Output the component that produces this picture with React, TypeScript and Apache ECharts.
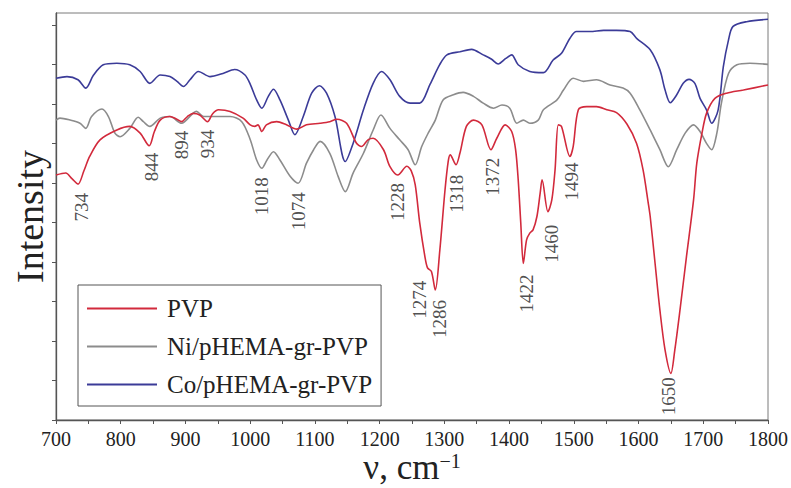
import React, { useEffect, useRef } from "react";
import * as echarts from "echarts";

// Wavenumbers (cm-1) and intensities for each spectrum
const pvpWavenumbers = [700, 715, 725, 734, 743, 752, 768, 794, 814, 830, 844, 852, 861, 876, 886, 894, 903, 912, 922, 934, 942, 951, 969, 989, 1000, 1007, 1012, 1018, 1025, 1041, 1056, 1072, 1087, 1108, 1123, 1134, 1149, 1164, 1172, 1182, 1190, 1206, 1216, 1228, 1242, 1249, 1255, 1262, 1270, 1274, 1280, 1286, 1293, 1301, 1306, 1309, 1318, 1324, 1334, 1345, 1358, 1372, 1381, 1394, 1404, 1410, 1414, 1418, 1422, 1427, 1432, 1437, 1443, 1448, 1451, 1460, 1466, 1471, 1476, 1481, 1494, 1499, 1507, 1520, 1535, 1551, 1566, 1582, 1597, 1607, 1615, 1618, 1625, 1633, 1641, 1650, 1656, 1664, 1674, 1685, 1690, 1698, 1705, 1718, 1736, 1762, 1800];
const pvpIntensity = [6.2, 6.25, 6.1, 5.97, 6.3, 6.67, 7.09, 7.34, 7.43, 7.26, 6.94, 7.3, 7.59, 7.68, 7.62, 7.55, 7.68, 7.76, 7.72, 7.55, 7.75, 7.85, 7.81, 7.64, 7.47, 7.43, 7.47, 7.3, 7.47, 7.55, 7.47, 7.36, 7.47, 7.51, 7.55, 7.61, 7.51, 7.01, 6.92, 7.09, 7.13, 6.84, 6.41, 6.2, 6.42, 6.3, 5.95, 4.98, 4.13, 3.85, 3.76, 3.29, 4.3, 5.82, 6.55, 6.71, 6.46, 6.75, 7.43, 7.59, 7.47, 6.84, 7.13, 7.47, 7.3, 6.85, 6.1, 5.0, 3.96, 4.56, 4.73, 4.81, 5.15, 5.74, 6.08, 5.27, 5.57, 6.33, 7.47, 7.43, 6.67, 6.92, 7.85, 7.93, 7.93, 7.85, 7.78, 7.49, 7.0, 6.33, 5.49, 5.15, 4.05, 2.78, 1.77, 1.18, 1.77, 2.78, 4.13, 5.57, 6.5, 7.26, 7.76, 8.14, 8.27, 8.35, 8.48];

const niWavenumbers = [700, 706, 722, 737, 746, 755, 771, 781, 791, 799, 814, 827, 835, 845, 861, 876, 894, 917, 928, 948, 969, 987, 1000, 1010, 1018, 1026, 1036, 1046, 1062, 1074, 1087, 1098, 1108, 1123, 1136, 1147, 1159, 1175, 1190, 1202, 1216, 1231, 1244, 1255, 1265, 1275, 1286, 1298, 1314, 1329, 1345, 1360, 1376, 1389, 1401, 1412, 1422, 1432, 1445, 1453, 1474, 1484, 1499, 1515, 1535, 1556, 1576, 1587, 1602, 1618, 1633, 1646, 1659, 1672, 1685, 1695, 1705, 1713, 1721, 1728, 1739, 1752, 1772, 1800];
const niIntensity = [7.59, 7.64, 7.59, 7.51, 7.38, 7.68, 7.87, 7.68, 7.26, 7.17, 7.38, 7.66, 7.55, 7.43, 7.64, 7.68, 7.51, 7.81, 7.68, 7.68, 7.68, 7.55, 7.1, 6.58, 6.37, 6.58, 6.79, 6.58, 6.16, 5.99, 6.5, 6.84, 7.05, 6.75, 6.16, 5.78, 6.25, 6.75, 7.34, 7.72, 7.38, 7.09, 6.84, 6.46, 6.92, 7.26, 7.59, 8.1, 8.23, 8.29, 8.19, 8.02, 7.89, 7.97, 7.89, 7.51, 7.59, 7.51, 7.59, 7.85, 8.1, 8.35, 8.65, 8.57, 8.61, 8.48, 8.4, 8.27, 7.85, 7.34, 6.84, 6.41, 6.84, 7.26, 7.47, 7.3, 7.0, 6.84, 7.26, 8.02, 8.77, 8.99, 9.03, 9.0];

const coWavenumbers = [700, 717, 734, 746, 758, 773, 794, 814, 830, 845, 861, 876, 887, 897, 907, 920, 938, 958, 976, 992, 1000, 1010, 1018, 1028, 1036, 1046, 1059, 1069, 1082, 1095, 1107, 1118, 1131, 1147, 1159, 1175, 1190, 1203, 1216, 1231, 1247, 1262, 1278, 1293, 1304, 1324, 1342, 1360, 1373, 1383, 1395, 1404, 1414, 1432, 1453, 1468, 1481, 1494, 1504, 1525, 1546, 1566, 1587, 1597, 1618, 1633, 1641, 1649, 1659, 1669, 1678, 1687, 1695, 1705, 1713, 1723, 1731, 1739, 1746, 1767, 1800];
const coIntensity = [8.65, 8.69, 8.61, 8.4, 8.73, 8.99, 9.03, 8.99, 8.82, 8.52, 8.73, 8.69, 8.57, 8.44, 8.61, 8.82, 8.69, 8.77, 8.87, 8.73, 8.5, 8.1, 7.89, 8.19, 8.37, 8.1, 7.59, 7.22, 7.68, 8.27, 8.46, 8.27, 7.68, 6.54, 7.0, 7.85, 8.52, 8.82, 8.61, 8.19, 8.02, 8.02, 8.5, 9.0, 9.24, 9.32, 9.38, 9.24, 9.13, 9.01, 9.15, 9.24, 8.99, 8.82, 8.79, 9.11, 9.28, 9.66, 9.83, 9.83, 9.86, 9.86, 9.83, 9.66, 9.37, 8.86, 8.35, 8.03, 8.23, 8.52, 8.62, 8.52, 8.14, 7.85, 7.51, 7.85, 8.94, 9.62, 9.96, 10.08, 10.14];

const seriesNames = ["PVP", "Ni/pHEMA-gr-PVP", "Co/pHEMA-gr-PVP"];

// Assigned band positions and the spectrum each one is read from
const peakWavenumbers = [734, 844, 894, 934, 1018, 1074, 1228, 1274, 1286, 1318, 1372, 1422, 1460, 1494, 1650];
const peakSources = ["PVP", "PVP", "PVP", "PVP", "Ni/pHEMA-gr-PVP", "Ni/pHEMA-gr-PVP", "PVP", "PVP", "PVP", "PVP", "PVP", "PVP", "PVP", "PVP", "PVP"];

const xTicks = { min: 700, max: 1800, interval: 100 };
const yTickValues = [0, 1, 2, 3, 4, 5, 6, 7, 8, 9, 10];

const SERIF = '"Liberation Serif", "Times New Roman", serif';
const COLORS: Record<string, string> = {
  "PVP": "#d22a3c",
  "Ni/pHEMA-gr-PVP": "#8c8c8c",
  "Co/pHEMA-gr-PVP": "#3b3b98",
};

// label placement tweaks (pixels): gap below the band minimum, sideways shift
const labelGap: Record<number, number> = { 844: 7, 934: 8, 1228: 8, 1274: 13, 1286: 10, 1318: 10, 1372: 8, 1422: 11, 1460: 13, 1494: 6, 1650: 4 };
const labelShift: Record<number, number> = { 734: 3, 844: 2, 1274: -8, 1286: 4, 1372: 2, 1422: 3, 1460: 4, 1494: 2, 1650: -2 };

const spectra: Record<string, { x: number[]; y: number[] }> = {
  "PVP": { x: pvpWavenumbers, y: pvpIntensity },
  "Ni/pHEMA-gr-PVP": { x: niWavenumbers, y: niIntensity },
  "Co/pHEMA-gr-PVP": { x: coWavenumbers, y: coIntensity },
};

function valueAt(xs: number[], ys: number[], w: number): number {
  for (let i = 0; i < xs.length - 1; i++) {
    if (w >= xs[i] && w <= xs[i + 1]) {
      const t = (w - xs[i]) / (xs[i + 1] - xs[i]);
      return ys[i] + t * (ys[i + 1] - ys[i]);
    }
  }
  return ys[ys.length - 1];
}

export default function App() {
  const ref = useRef<HTMLDivElement>(null);

  useEffect(() => {
    if (!ref.current) return;
    const chart = echarts.init(ref.current, null, { renderer: "svg" });

    const lineSeries = ["Co/pHEMA-gr-PVP", "Ni/pHEMA-gr-PVP", "PVP"].map((name) => ({
      name,
      type: "line" as const,
      data: spectra[name].x.map((w, i) => [w, spectra[name].y[i]]),
      showSymbol: false,
      smooth: 0.3,
      lineStyle: { color: COLORS[name], width: 1.6 },
      itemStyle: { color: COLORS[name] },
      silent: true,
    }));

    const peakData = peakWavenumbers.map((w, i) => {
      const src = spectra[peakSources[i]];
      const gap = labelGap[w] ?? 9;
      const dx = labelShift[w] ?? 0;
      return {
        value: [w, valueAt(src.x, src.y, w)],
        label: { position: [1 + dx, 1 + gap] },
      };
    });

    chart.setOption({
      animation: false,
      backgroundColor: "#fff",
      grid: {
        left: 56,
        right: 23,
        top: 13,
        bottom: 68,
        show: true,
        borderColor: "#7a7a7a",
        borderWidth: 1,
        containLabel: false,
        outerBoundsMode: "none",
      },
      legend: {
        orient: "vertical",
        left: 78,
        top: 285,
        padding: [11, 9, 9, 9],
        backgroundColor: "#fff",
        borderColor: "#555",
        borderWidth: 1,
        itemWidth: 70,
        itemHeight: 2,
        itemGap: 13,
        icon: "rect",
        data: seriesNames,
        textStyle: {
          fontFamily: SERIF,
          fontSize: 25,
          color: "#222",
          lineHeight: 22,
          padding: [0, 0, 0, 5],
        },
      },
      xAxis: {
        type: "value",
        min: xTicks.min,
        max: xTicks.max,
        interval: xTicks.interval,
        name: "{t|ν, cm}{s|−1}",
        nameLocation: "middle",
        nameMoveOverlap: false,
        nameGap: 31,
        nameTextStyle: {
          rich: {
            t: { fontFamily: SERIF, fontSize: 35, color: "#222", lineHeight: 33 },
            s: { fontFamily: SERIF, fontSize: 20, color: "#222", verticalAlign: "top", lineHeight: 18 },
          },
        },
        axisLine: { show: true, lineStyle: { color: "#555", width: 1.3 } },
        axisTick: { show: true, inside: false, length: 4, lineStyle: { color: "#555" } },
        minorTick: { show: true, splitNumber: 2, length: 4, lineStyle: { color: "#555" } },
        axisLabel: {
          fontFamily: SERIF,
          fontSize: 20,
          color: "#222",
          margin: 9,
          formatter: (v: number) => String(v),
        },
        splitLine: { show: false },
      },
      yAxis: {
        type: "value",
        min: 0,
        max: 10.3,
        interval: 1,
        name: "Intensity",
        nameLocation: "middle",
        nameGap: 7,
        nameRotate: 90,
        nameTextStyle: { fontFamily: SERIF, fontSize: 38, color: "#222" },
        axisLine: { show: true, lineStyle: { color: "#555", width: 1.3 } },
        axisTick: { show: true, inside: false, length: 4, customValues: yTickValues, lineStyle: { color: "#555" } },
        axisLabel: { show: false },
        splitLine: { show: false },
      },
      series: [
        ...lineSeries,
        {
          name: "peaks",
          type: "scatter",
          data: peakData,
          symbolSize: 2,
          itemStyle: { color: "rgba(0,0,0,0)" },
          silent: true,
          z: 5,
          label: {
            show: true,
            formatter: (p: any) => String(p.value[0]),
            rotate: 90,
            align: "right",
            verticalAlign: "middle",
            fontFamily: SERIF,
            fontSize: 19,
            color: "#222",
          },
          emphasis: { disabled: true },
        },
      ],
    });

    return () => chart.dispose();
  }, []);

  return (
    <div
      ref={ref}
      style={{ position: "absolute", left: 0, top: 0, width: 791, height: 488, background: "#fff" }}
    />
  );
}
